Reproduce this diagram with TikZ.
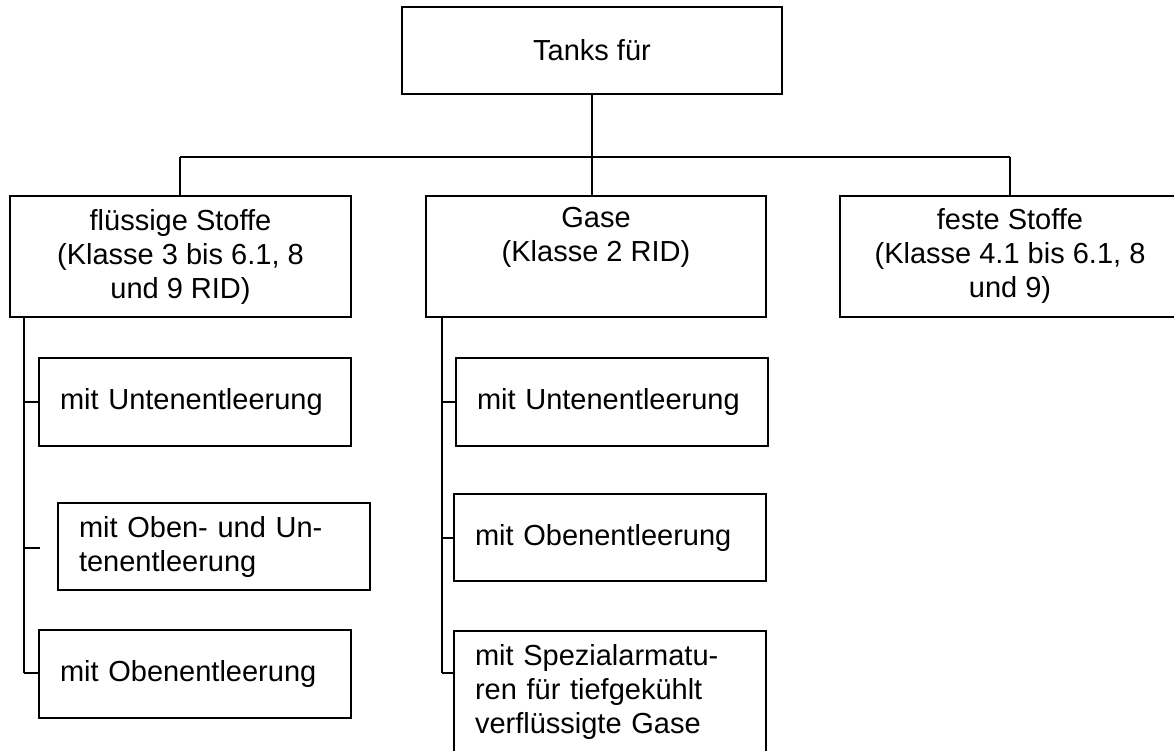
\documentclass[tikz,border=0pt]{standalone}
\usepackage{fontspec}
\setmainfont{Liberation Sans}
\begin{document}
\begin{tikzpicture}[x=1pt,y=-1pt,
  box/.style={draw, line width=1.6pt, inner sep=0pt, font=\fontsize{29}{34}\selectfont},
  lvtwo/.style={box, minimum width=341pt, minimum height=121pt, align=center},
  lvthree/.style={box, text width=270pt, inner xsep=21pt, align=left},
  conn/.style={line width=2pt},
  spine/.style={line width=2.8pt},
  spinetwo/.style={line width=2.2pt}]
\useasboundingbox (0,0) rectangle (1174,751);
% top
\node[box, minimum width=380pt, minimum height=87pt] (top) at (592,50.5) {Tanks für};
% level 2
\node[lvtwo] (fl) at (180.5,256.5) {flüssige Stoffe\\(Klasse 3 bis 6.1, 8\\und 9 RID)};
\node[lvtwo, minimum width=340pt] (ga) at (596,256.5) {Gase\\(Klasse 2 RID)\\ \strut};
\node[lvtwo, minimum width=340pt] (fe) at (1010,256.5) {feste Stoffe\\(Klasse 4.1 bis 6.1, 8\\und 9)};
% level 3 left
\node[lvthree, minimum height=88pt] (f1) at (195,402) {mit Untenentleerung};
\node[lvthree, minimum height=87pt] (f2) at (214,546.5) {mit Oben- und Un-\\tenentleerung};
\node[lvthree, minimum height=88pt] (f3) at (195,674) {mit Obenentleerung};
% level 3 middle
\node[lvthree, minimum height=88pt] (g1) at (612,402) {mit Untenentleerung};
\node[lvthree, minimum height=87pt] (g2) at (610,537.5) {mit Obenentleerung};
\node[lvthree, minimum height=122pt] (g3) at (610,692) {mit Spezialarmatu-\\ren für tiefgekühlt\\verflüssigte Gase};
% bus
\coordinate (busL) at (180,157);
\coordinate (busR) at (1010,157);
\draw[conn] (top.south) -- (top.south |- ga.north);
\draw[conn] (busL) -- (busR);
\draw[conn] (busL) -- (busL |- fl.north);
\draw[conn] (busR) -- (busR |- fe.north);
% left spine
\coordinate (fs0) at (24,317);
\coordinate (fs3) at (24,673);
\coordinate (ft2) at (40,548);
\draw[spine] (fs0) -- (fs3);
\draw[conn] (fs0 |- f1.west) -- (f1.west);
\draw[conn] (fs0 |- ft2) -- (ft2);
\draw[conn] (fs3) -- (fs3 -| f3.west);
% middle spine
\coordinate (gs0) at (442,317);
\coordinate (gs3) at (442,673);
\draw[spinetwo] (gs0) -- (gs3);
\draw[conn] (gs0 |- g1.west) -- (g1.west);
\draw[conn] (gs0 |- g2.west) -- (g2.west);
\draw[conn] (gs3) -- (gs3 -| g3.west);
\end{tikzpicture}
\end{document}
